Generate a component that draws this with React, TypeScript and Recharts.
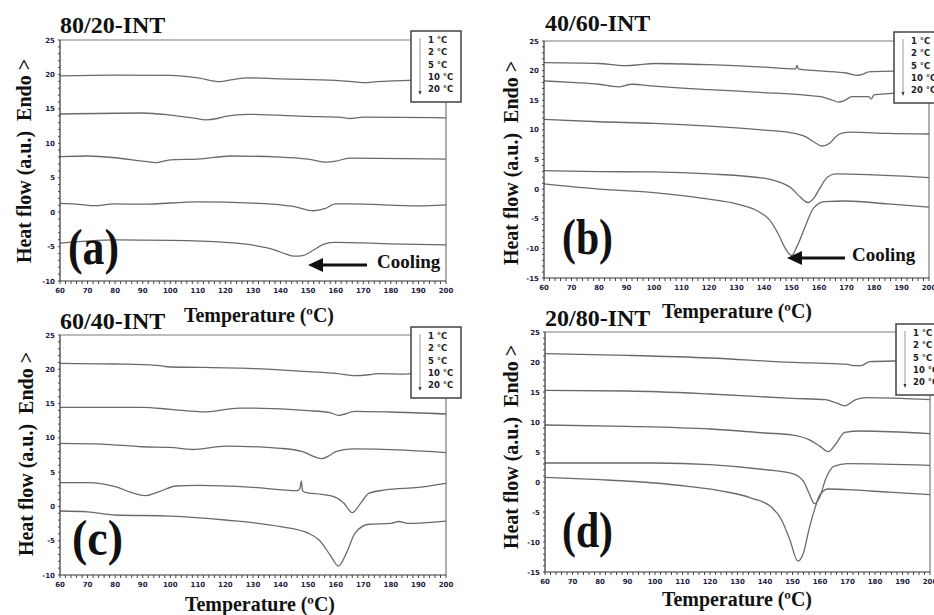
import React from 'react';
import { LineChart, Line, XAxis, YAxis, ReferenceLine } from 'recharts';

type Pt = [number, number];

// cooling rates shown in every legend box
const rates = ['1 °C', '2 °C', '5 °C', '10 °C', '20 °C'];

const tempLabels = [60, 70, 80, 90, 100, 110, 120, 130, 140, 150, 160, 170, 180, 190, 200];
const heatLabelsAC = [-10, -5, 0, 5, 10, 15, 20, 25];
const heatLabelsBD = [-15, -10, -5, 0, 5, 10, 15, 20, 25];

// (a) 80/20-INT
const a1: Pt[] = [[60, 19.8], [80, 19.9], [100, 19.85], [110, 19.5], [118, 18.95], [122, 19.2], [128, 19.5], [140, 19.35], [160, 19.15], [165, 19.0], [170, 18.8], [175, 18.95], [190, 19.2], [200, 19.3]];
const a2: Pt[] = [[60, 14.25], [90, 14.4], [100, 14.1], [108, 13.7], [113, 13.4], [117, 13.6], [120, 13.9], [128, 14.2], [150, 13.9], [162, 13.75], [165, 13.6], [170, 13.8], [200, 13.7]];
const a3: Pt[] = [[60, 8.06], [70, 8.15], [80, 7.9], [90, 7.4], [95, 7.2], [100, 7.6], [110, 7.7], [122, 8.15], [140, 8.0], [150, 7.7], [157, 7.25], [160, 7.4], [165, 7.85], [200, 7.7]];
const a4: Pt[] = [[60, 1.28], [68, 1.1], [72, 0.94], [80, 1.2], [90, 1.15], [110, 1.5], [130, 1.3], [140, 1.05], [145, 0.8], [152, 0.2], [156, 0.5], [160, 1.2], [165, 1.2], [190, 0.9], [200, 1.05]];
const a5: Pt[] = [[60, -4.5], [70, -4.2], [80, -4.04], [100, -4.1], [120, -4.4], [130, -4.8], [138, -5.5], [142, -6.1], [145, -6.4], [148, -6.3], [152, -5.5], [156, -4.6], [160, -4.4], [180, -4.6], [200, -4.75]];

// (b) 40/60-INT
const b1: Pt[] = [[60, 21.35], [80, 21.2], [87, 20.9], [90, 20.85], [95, 21.0], [100, 21.2], [120, 21.0], [140, 20.6], [151.5, 20.3], [152, 20.9], [152.5, 20.3], [160, 19.95], [170, 19.6], [174, 19.2], [176, 19.4], [178, 19.8], [190, 19.95], [200, 20.06]];
const b2: Pt[] = [[60, 18.27], [70, 18.0], [80, 17.7], [87, 17.26], [92, 17.7], [100, 17.37], [120, 16.8], [140, 16.3], [155, 15.85], [162, 15.45], [165, 15.0], [167, 14.7], [169, 14.9], [172, 15.6], [178, 15.6], [179, 15.2], [180, 15.9], [182, 16.0], [200, 16.4]];
const b3: Pt[] = [[60, 11.76], [80, 11.37], [100, 11.1], [120, 10.64], [140, 9.97], [150, 9.5], [155, 8.85], [158, 8.0], [161, 7.28], [164, 7.8], [166, 8.8], [168, 9.4], [172, 9.63], [185, 9.4], [200, 9.3]];
const b4: Pt[] = [[60, 3.13], [80, 2.96], [100, 2.9], [120, 2.57], [140, 1.84], [145, 1.28], [150, 0.15], [153, -1.25], [156, -2.26], [158, -1.6], [160, -0.1], [163, 2.0], [166, 2.57], [180, 2.4], [200, 1.95]];
const b5: Pt[] = [[60, 0.88], [80, 0.0], [100, -0.58], [120, -1.7], [130, -2.5], [138, -3.77], [142, -5.2], [145, -7.4], [148, -10.2], [150, -11.2], [152, -9.66], [155, -6.3], [158, -3.2], [162, -2.1], [170, -2.0], [185, -2.5], [200, -3.04]];

// (c) 60/40-INT
const c1: Pt[] = [[60, 20.87], [80, 20.77], [95, 20.58], [100, 20.33], [110, 20.28], [130, 20.1], [150, 19.65], [160, 19.4], [167, 19.07], [172, 19.2], [175, 19.36], [185, 19.3], [190, 19.5], [200, 19.8]];
const c2: Pt[] = [[60, 14.45], [90, 14.45], [100, 14.16], [113, 13.8], [125, 14.35], [150, 13.97], [158, 13.67], [161, 13.28], [167, 13.87], [180, 13.77], [200, 13.48]];
const c3: Pt[] = [[60, 9.2], [75, 9.1], [90, 8.7], [100, 8.6], [108, 8.3], [120, 8.8], [140, 8.47], [148, 8.0], [152, 7.3], [155, 6.97], [158, 7.5], [160, 8.0], [166, 8.4], [185, 8.2], [200, 7.84]];
const c4: Pt[] = [[60, 3.46], [70, 3.46], [80, 2.88], [87, 1.9], [91, 1.57], [96, 2.15], [102, 2.98], [110, 3.07], [130, 2.78], [146, 2.3], [147, 2.6], [147.5, 3.7], [148, 2.3], [149, 2.05], [155, 1.76], [160, 1.33], [163, 0.45], [166, -0.9], [169, 0.45], [172, 1.9], [178, 2.4], [190, 2.78], [200, 3.37]];
const c5: Pt[] = [[60, -0.67], [70, -0.8], [80, -1.25], [100, -1.4], [120, -1.98], [140, -2.95], [150, -3.9], [154, -4.9], [158, -7.1], [161, -8.7], [164, -6.7], [167, -3.9], [172, -2.6], [180, -2.47], [183, -2.2], [186, -2.47], [200, -2.13]];

// (d) 20/80-INT
const d1: Pt[] = [[60, 21.39], [90, 21.1], [120, 20.67], [150, 19.94], [165, 19.72], [170, 19.6], [172, 19.4], [175, 19.4], [178, 20.05], [190, 20.2], [200, 20.3]];
const d2: Pt[] = [[60, 15.28], [90, 15.17], [120, 14.67], [150, 13.94], [162, 13.72], [166, 13.17], [169, 12.7], [173, 13.72], [177, 14.06], [200, 13.72]];
const d3: Pt[] = [[60, 9.5], [90, 9.28], [120, 8.83], [140, 8.17], [150, 7.83], [156, 7.06], [160, 5.94], [163, 5.06], [166, 6.5], [169, 8.28], [175, 8.5], [200, 8.06]];
const d4: Pt[] = [[60, 3.17], [100, 3.17], [120, 2.9], [140, 2.06], [150, 1.4], [154, 0.1], [156, -1.83], [158, -3.6], [160, -2.4], [162, 0.4], [165, 2.6], [170, 3.06], [200, 2.78]];
const d5: Pt[] = [[60, 0.78], [80, 0.39], [100, -0.17], [112, -0.72], [125, -1.56], [135, -2.67], [142, -4.06], [146, -6.28], [149, -9.6], [152, -13.2], [154, -11.8], [156, -7.9], [158, -4.6], [160, -2.1], [163, -1.17], [170, -1.28], [185, -1.7], [200, -2.1]];

// minor ticks: every 2 degrees on x, every 1 unit on y
const minor = (labels: number[], step: number) => {
  const out: number[] = [];
  for (let v = labels[0]; v <= labels[labels.length - 1] + 1e-9; v += step) out.push(Math.round(v * 10) / 10);
  return out;
};

const serif = '"Liberation Serif", "Times New Roman", serif';
const sans = '"DejaVu Sans", sans-serif';
const tickColor = '#1c2140';

const XTick = (props: any) => {
  const { x, y, payload } = props;
  if (payload.value % 10 !== 0) return <g />;
  return (
    <text x={x} y={y} dy={7} textAnchor="middle" fontFamily={sans} fontWeight="bold" fontSize={7} fill={tickColor}>
      {payload.value}
    </text>
  );
};

const YTick = (props: any) => {
  const { x, y, payload } = props;
  if (payload.value % 5 !== 0) return <g />;
  return (
    <text x={x - 1} y={y} dy={2.5} textAnchor="end" fontFamily={sans} fontWeight="bold" fontSize={7} fill={tickColor}>
      {payload.value}
    </text>
  );
};

type PanelProps = {
  x: number;
  y: number;
  w: number;
  h: number;
  yLabels: number[];
  series: Pt[][];
};

const Panel = ({ x, y, w, h, yLabels, series }: PanelProps) => {
  const yMin = yLabels[0];
  const yMax = yLabels[yLabels.length - 1];
  return (
    <div style={{ position: 'absolute', left: x - 30, top: y - 10 }}>
      <LineChart width={w + 40} height={h + 32} margin={{ top: 10, right: 10, bottom: 0, left: 0 }}>
        <XAxis
          type="number"
          dataKey="t"
          domain={[60, 200]}
          ticks={minor(tempLabels, 2)}
          interval={0}
          tick={XTick}
          tickSize={3}
          tickMargin={2}
          height={22}
          axisLine={{ stroke: '#333', strokeWidth: 1.2 }}
          tickLine={{ stroke: '#444' }}
          allowDataOverflow
        />
        <YAxis
          type="number"
          dataKey="v"
          domain={[yMin, yMax]}
          ticks={minor(yLabels, 1)}
          interval={0}
          tick={YTick}
          tickSize={2}
          tickMargin={2}
          width={30}
          axisLine={{ stroke: '#333', strokeWidth: 1.2 }}
          tickLine={{ stroke: '#444' }}
          allowDataOverflow
        />
        <ReferenceLine y={yMax} stroke="#7a7a7a" strokeWidth={1.2} />
        <ReferenceLine x={200} stroke="#7a7a7a" strokeWidth={1.2} />
        {series.map((s, i) => (
          <Line
            key={i}
            data={s.map(([t, v]) => ({ t, v }))}
            dataKey="v"
            type="monotone"
            stroke="#6a6a6a"
            strokeWidth={1.3}
            dot={false}
            isAnimationActive={false}
          />
        ))}
      </LineChart>
    </div>
  );
};

const Legend = ({ x, y }: { x: number; y: number }) => (
  <g>
    <rect x={x} y={y} width={50} height={71} fill="#fff" stroke="#444" strokeWidth={1.5} />
    <line x1={x + 9} y1={y + 7} x2={x + 9} y2={y + 61} stroke="#9a9a9a" strokeWidth={1} />
    <polygon points={`${x + 7.5},${y + 60} ${x + 10.5},${y + 60} ${x + 9},${y + 64}`} fill="#333" />
    {rates.map((r, i) => (
      <text key={r} x={x + 17} y={y + 12 + i * 12.3} fontFamily={sans} fontWeight="bold" fontSize={8.5} fill="#222">
        {r}
      </text>
    ))}
  </g>
);

const YTitle = ({ x, y }: { x: number; y: number }) => (
  <text
    x={0}
    y={0}
    transform={`translate(${x},${y}) rotate(-90)`}
    textAnchor="middle"
    fontFamily={serif}
    fontWeight="bold"
    fontSize={20}
    fill="#111"
    style={{ whiteSpace: 'pre' }}
  >
    {'Heat flow (a.u.)  Endo >'}
  </text>
);

const Title = ({ x, y, text }: { x: number; y: number; text: string }) => (
  <text x={x} y={y} fontFamily={serif} fontWeight="bold" fontSize={24} fill="#111">
    {text}
  </text>
);

const Letter = ({ x, y, text }: { x: number; y: number; text: string }) => (
  <text x={x} y={y} fontFamily={serif} fontWeight="bold" fontSize={50} fill="#111" textLength={51} lengthAdjust="spacingAndGlyphs">
    {text}
  </text>
);

const TempTitle = ({ x, y }: { x: number; y: number }) => (
  <text x={x} y={y} fontFamily={serif} fontWeight="bold" fontSize={20} fill="#111" textLength={150} lengthAdjust="spacingAndGlyphs">
    Temperature (ºC)
  </text>
);

const Cooling = ({ tip, y, textX, base }: { tip: number; y: number; textX: number; base: number }) => (
  <g>
    <polygon points={`${tip},${y} ${tip + 15},${y - 7} ${tip + 15},${y + 7}`} fill="#111" />
    <line x1={tip + 12} y1={y} x2={base} y2={y} stroke="#111" strokeWidth={3} />
    <text x={textX} y={y + 3} fontFamily={serif} fontWeight="bold" fontSize={19} fill="#111">
      Cooling
    </text>
  </g>
);

export default function App() {
  return (
    <div
      style={{
        position: 'absolute',
        left: 0,
        top: 0,
        width: 934,
        height: 615,
        overflow: 'hidden',
        background: '#fff',
      }}
    >
      <Panel x={60} y={40} w={386} h={241} yLabels={heatLabelsAC} series={[a1, a2, a3, a4, a5]} />
      <Panel x={544} y={41} w={385} h={237} yLabels={heatLabelsBD} series={[b1, b2, b3, b4, b5]} />
      <Panel x={60} y={335} w={386} h={240} yLabels={heatLabelsAC} series={[c1, c2, c3, c4, c5]} />
      <Panel x={545} y={332} w={385} h={240} yLabels={heatLabelsBD} series={[d1, d2, d3, d4, d5]} />

      <svg
        width={934}
        height={615}
        style={{ position: 'absolute', left: 0, top: 0, pointerEvents: 'none' }}
      >
        <Title x={60} y={33} text="80/20-INT" />
        <Title x={545} y={31} text="40/60-INT" />
        <Title x={60} y={329} text="60/40-INT" />
        <Title x={545} y={326} text="20/80-INT" />

        <YTitle x={31} y={161} />
        <YTitle x={518} y={163} />
        <YTitle x={33} y={454} />
        <YTitle x={518} y={447} />

        <Letter x={68} y={264} text="(a)" />
        <Letter x={562} y={254} text="(b)" />
        <Letter x={72} y={555} text="(c)" />
        <Letter x={562} y={547} text="(d)" />

        <Cooling tip={308} y={265} textX={377} base={367} />
        <Cooling tip={787} y={258} textX={852} base={845} />

        <TempTitle x={184} y={322} />
        <TempTitle x={662} y={318} />
        <TempTitle x={185} y={611} />
        <TempTitle x={662} y={606} />

        <Legend x={411} y={31} />
        <Legend x={894} y={32} />
        <Legend x={411} y={327} />
        <Legend x={896} y={324} />
      </svg>
    </div>
  );
}
